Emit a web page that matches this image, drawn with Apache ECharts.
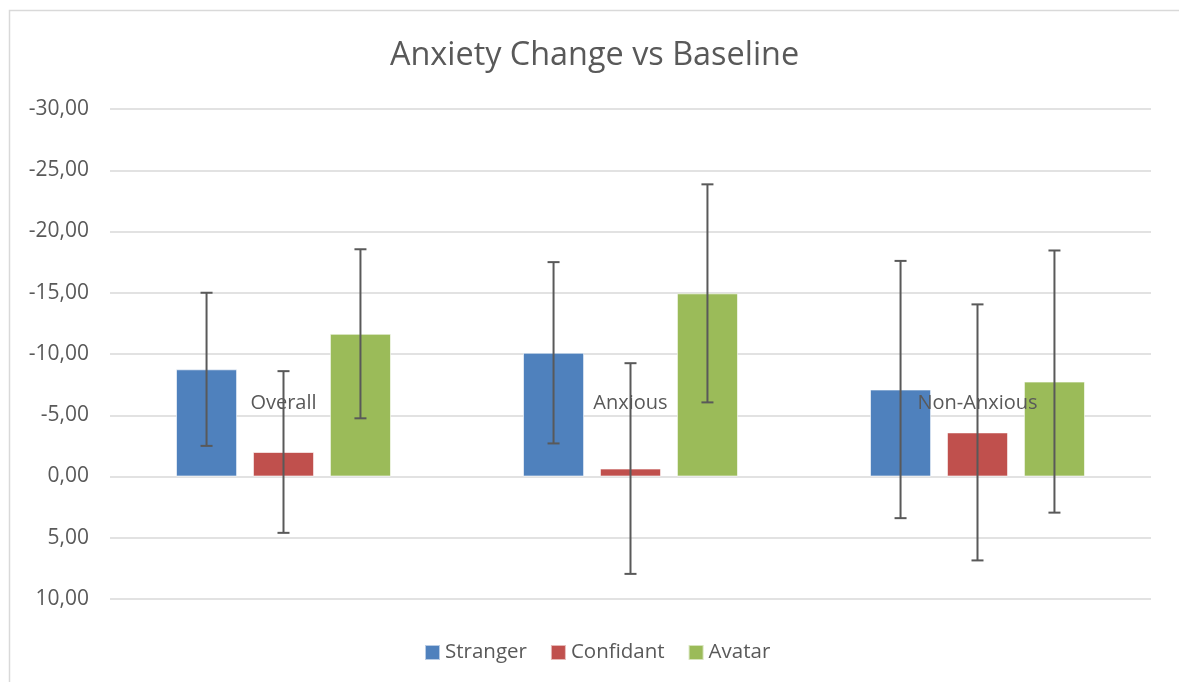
<!DOCTYPE html>
<html>
<head>
<meta charset="utf-8">
<script src="https://cdn.jsdelivr.net/npm/echarts@6/dist/echarts.min.js"></script>
<style>html,body{margin:0;padding:0;background:#fff;}#c{width:1179px;height:682px;}</style>
</head>
<body>
<div id="c"></div>
<script>
var categories = ['Overall', 'Anxious', 'Non-Anxious'];
var seriesNames = ['Stranger', 'Confidant', 'Avatar'];
var strangerValues = [-8.75, -10.1, -7.1];
var confidantValues = [-2.0, -0.65, -3.6];
var avatarValues = [-11.65, -14.95, -7.75];
var strangerErrors = [6.25, 7.4, 10.5];
var confidantErrors = [6.6, 8.6, 10.45];
var avatarErrors = [6.9, 8.9, 10.7];
var colors = ['#4F81BD', '#C0504D', '#9BBB59'];

var FONT = 'Open Sans';
var BAR_W = 0.176; // fraction of band
var GAP = 0.26;    // fraction of bar width

var values = [strangerValues, confidantValues, avatarValues];
var errors = [strangerErrors, confidantErrors, avatarErrors];

var chart = echarts.init(document.getElementById('c'), null, {renderer: 'canvas'});

function fmt(v) {
  return v.toFixed(2).replace('.', ',');
}

var series = [];
values.forEach(function (vals, si) {
  series.push({
    name: seriesNames[si],
    type: 'bar',
    data: vals,
    barWidth: (BAR_W * 100) + '%',
    barGap: (GAP * 100) + '%',
    itemStyle: {color: colors[si], borderColor: 'rgba(255,255,255,0.6)', borderWidth: 1},
    z: 1
  });
});
values.forEach(function (vals, si) {
  series.push({
    type: 'custom',
    name: seriesNames[si] + ' err',
    data: vals.map(function (v, i) { return [i, v - errors[si][i], v + errors[si][i]]; }),
    renderItem: function (params, api) {
      var band = api.size([1, 0])[0];
      var bw = band * BAR_W;
      var off = (si - 1) * bw * (1 + GAP);
      var c = api.coord([api.value(0), api.value(1)]);
      var d = api.coord([api.value(0), api.value(2)]);
      var x = c[0] + off;
      var cap = 6;
      var st = {stroke: '#595959', lineWidth: 2};
      return {
        type: 'group',
        children: [
          {type: 'line', shape: {x1: x, y1: c[1], x2: x, y2: d[1]}, style: st},
          {type: 'line', shape: {x1: x - cap, y1: c[1], x2: x + cap, y2: c[1]}, style: st},
          {type: 'line', shape: {x1: x - cap, y1: d[1], x2: x + cap, y2: d[1]}, style: st}
        ]
      };
    },
    encode: {x: 0, y: [1, 2]},
    z: 5,
    silent: true
  });
});

chart.setOption({
  animation: false,
  backgroundColor: '#fff',
  title: {
    text: 'Anxiety Change vs Baseline',
    left: 385,
    top: 35,
    textStyle: {fontFamily: FONT, fontSize: 32.4, fontWeight: 'normal', color: '#595959'}
  },
  legend: {
    data: seriesNames,
    bottom: 14,
    left: 419,
    itemWidth: 15,
    itemHeight: 15,
    itemGap: 23,
    icon: 'rect',
    textStyle: {fontFamily: FONT, fontSize: 20.5, color: '#595959'}
  },
  grid: {left: 110, right: 28, top: 109, bottom: 83, containLabel: false},
  xAxis: {
    type: 'category',
    data: categories,
    z: 3,
    axisLine: {show: false},
    axisTick: {show: false},
    axisLabel: {fontFamily: FONT, fontSize: 20, color: '#595959', margin: -206}
  },
  yAxis: {
    type: 'value',
    inverse: true,
    min: -30,
    max: 10,
    interval: 5,
    z: 0,
    axisLine: {show: false},
    axisTick: {show: false},
    splitLine: {lineStyle: {color: '#D9D9D9', width: 1.5}},
    axisLabel: {fontFamily: FONT, fontSize: 21, color: '#595959', margin: 21, formatter: fmt}
  },
  graphic: [{
    type: 'rect',
    shape: {x: 9.5, y: 10.5, width: 1200, height: 1200},
    style: {fill: 'none', stroke: '#D9D9D9', lineWidth: 1.5},
    silent: true
  }],
  series: series
});
</script>
</body>
</html>
